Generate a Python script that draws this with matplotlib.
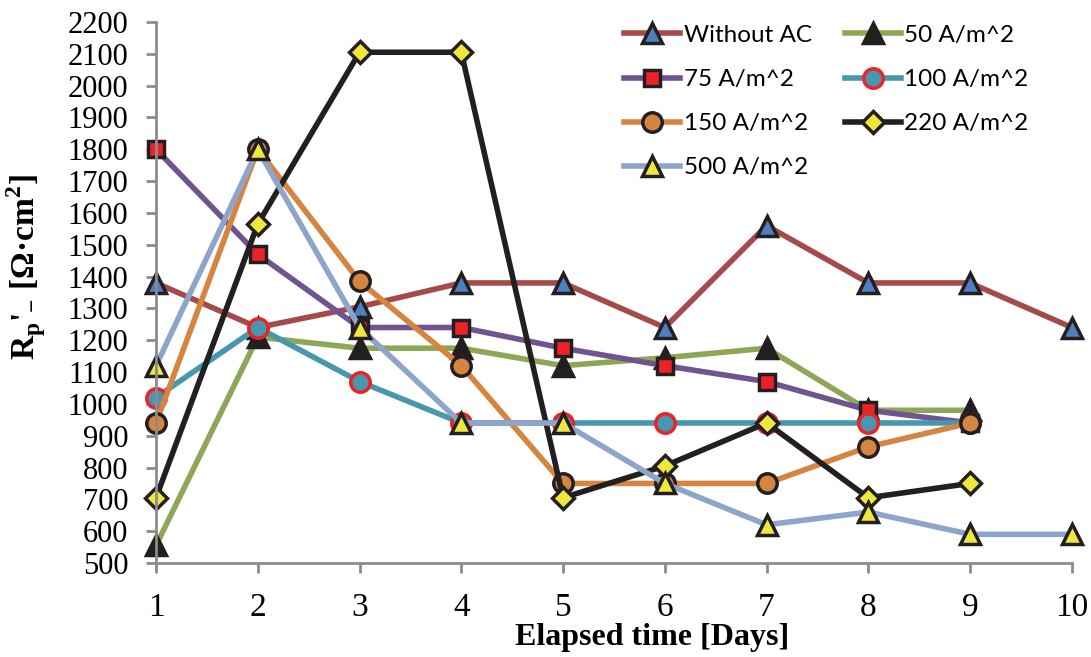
import numpy as np
import matplotlib.pyplot as plt

plt.rcParams['font.family'] = 'Liberation Serif'
plt.rcParams['mathtext.fontset'] = 'custom'
plt.rcParams['mathtext.rm'] = 'Liberation Serif'
plt.rcParams['mathtext.bf'] = 'Liberation Serif:bold'

days = [1, 2, 3, 4, 5, 6, 7, 8, 9, 10]

rp_no_ac = [1380, 1240, 1305, 1380, 1380, 1240, 1560, 1380, 1380, 1240]
rp_50 = [555, 1210, 1175, 1175, 1120, 1145, 1175, 980, 980]
rp_75 = [1800, 1470, 1240, 1240, 1175, 1120, 1070, 980, 940]
rp_100 = [1020, 1240, 1070, 940, 940, 940, 940, 940, 940]
rp_150 = [940, 1800, 1385, 1120, 750, 750, 750, 865, 940]
rp_220 = [705, 1565, 2105, 2105, 705, 805, 940, 705, 750]
rp_500 = [1120, 1800, 1240, 940, 940, 750, 620, 660, 590, 590]

labels = ['Without AC', '50 A/m^2', '75 A/m^2', '100 A/m^2',
          '150 A/m^2', '220 A/m^2', '500 A/m^2']

# (data, line colour, marker, marker face, marker edge)
series = [
    (rp_no_ac, '#A44A48', '^', '#4F7FBE', '#231F20'),
    (rp_50, '#8DA757', '^', '#231F20', '#231F20'),
    (rp_75, '#6F5490', 's', '#EC2227', '#231F20'),
    (rp_100, '#4797AE', 'o', '#4797AE', '#EC2227'),
    (rp_150, '#D68540', 'o', '#D68540', '#231F20'),
    (rp_220, '#231F20', 'D', '#EEE83E', '#231F20'),
    (rp_500, '#8EA5CB', '^', '#EEE83E', '#231F20'),
]

fig = plt.figure(figsize=(10.91, 6.57), dpi=100)
ax = fig.add_axes([0.143, 0.1431, 0.8395, 0.8234])

handles = []
for (vals, lc, mk, mf, me), lab in zip(series, labels):
    ms = {'D': 11, 's': 12}.get(mk, 14)
    h, = ax.plot(days[:len(vals)], vals, color=lc, lw=4, marker=mk,
                 markersize=ms, markerfacecolor=mf, markeredgecolor=me,
                 markeredgewidth=2.5, label=lab, clip_on=False)
    handles.append(h)

ax.set_xlim(1, 10)
ax.set_ylim(500, 2200)
ax.set_xticks(days)
ax.set_yticks(np.arange(500, 2201, 100))

for s in ['top', 'right']:
    ax.spines[s].set_visible(False)
for s in ['left', 'bottom']:
    ax.spines[s].set_color('#8C8C8C')
    ax.spines[s].set_linewidth(2)
ax.tick_params(colors='#8C8C8C', width=2, length=7, labelcolor='black')
ax.tick_params(axis='y', pad=13, labelsize=22)
ax.tick_params(axis='x', pad=14, labelsize=24)

ax.set_xlabel('Elapsed time [Days]', fontweight='bold', fontsize=23)
ax.xaxis.set_label_coords(0.542, -0.111)
ax.set_ylabel("R$_\\mathbf{p}$'$_\\mathbf{-}$ [Ω·cm$^\\mathbf{2}$]",
              fontweight='bold', fontsize=24)
ax.yaxis.set_label_coords(-0.118, 0.547)

order = [0, 2, 4, 6, 1, 3, 5]
leg = ax.legend([handles[i] for i in order], [labels[i] for i in order],
                ncol=2, loc='upper left', bbox_to_anchor=(0.4875, 1.035),
                frameon=False, prop={'family': 'Lato', 'size': 17.5},
                handlelength=2.3, handletextpad=0.15, columnspacing=1.35,
                labelspacing=0.95)

fig.savefig('out.png', dpi=100)
